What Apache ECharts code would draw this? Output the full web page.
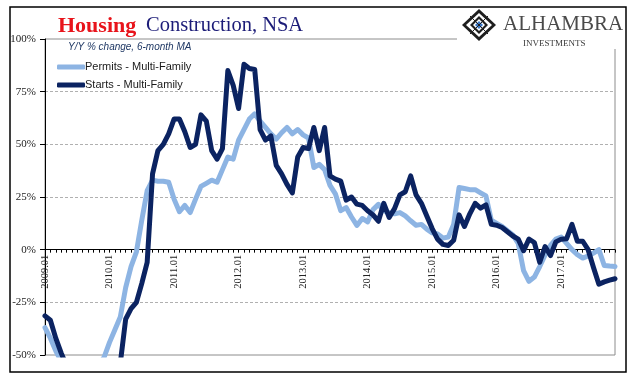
<!DOCTYPE html>
<html>
<head>
<meta charset="utf-8">
<script src="https://cdn.jsdelivr.net/npm/echarts@6/dist/echarts.min.js"></script>
<style>
  html, body { margin: 0; padding: 0; background: #fff; }
  #chart { width: 641px; height: 381px; }
</style>
</head>
<body>
<div id="chart"></div>
<script>
// ---- Data ----
var startYear = 2009;
var monthCount = 107; // 2009.01 .. 2017.11
var yTicks = [-50, -25, 0, 25, 50, 75, 100];

var permitsMF = [
  -37, -42, -48, -53, -58, -62, -65, -66, -64, -60, -55, -51,
  -44, -38, -32, -18, -8, -1, 14, 28, 33, 32.5, 32.5, 32,
  24, 18, 21, 17.6, 24, 30, 31.5, 33, 32, 38, 44, 43,
  52, 57, 62, 64.5, 61, 58, 55, 52.5, 55.5, 58, 55, 57,
  54.5, 53, 39, 40.5, 38, 30.5, 26.5, 18.5, 20, 15.5, 11.5, 14.8,
  13.2, 19, 21.5, 18.5, 17.5, 17, 17.6, 16, 13.7, 11.6, 12, 9.7,
  8, 7.5, 5.5, 6, 12, 29.5, 29, 28.5, 28.5, 27, 25.5, 14,
  12.5, 11, 9, 7, 3, -10, -15, -13, -8, -2.5, 2, 5,
  6, 3, 0, -2.4, -4, -3, -1.6, 0, -7.5, -7.8, -8
];

var startsMF = [
  -31.4, -33.5, -42, -49, -55, -60, -65, -70, -72, -70, -68, -65,
  -62, -58, -54, -33, -28, -25, -16, -6, 36, 47, 50, 55,
  62, 62, 56, 48.5, 50, 64, 61, 47, 43, 48, 85, 78,
  67, 88, 86, 85.5, 57, 52, 54, 40, 36, 31, 27, 44,
  48.5, 48, 58, 47, 58, 35, 33.5, 32.5, 23.5, 25, 21.6, 21,
  18.5, 16.5, 13.5, 22, 15.3, 19.5, 26, 27.5, 35, 26, 22, 16,
  10, 5, 2.5, 2, 4.5, 16.5, 11, 17, 22, 19.7, 21.3, 12,
  11.6, 10.5, 8.5, 6.5, 5, -0.5, 5, 3.4, -6, 1.5, -2.8, 3.7,
  5, 5.2, 12, 4, 4, 0, -8.5, -16.4, -15.3, -14.5, -13.8
];

var categories = [];
for (var k = 0; k < monthCount; k++) {
  var yy = startYear + Math.floor(k / 12);
  var mm = (k % 12) + 1;
  categories.push(yy + '.' + (mm < 10 ? '0' + mm : '' + mm));
}

var lightBlue = '#8db4e3';
var navy = '#0b2361';

var gridTop = 39, gridBottom = 26, chartH = 381;
var plotH = chartH - gridTop - gridBottom;
// distance from the bottom of the plot to the zero line, from the y scale
var zeroOffset = plotH * (0 - yTicks[0]) / (yTicks[yTicks.length - 1] - yTicks[0]);

var chart = echarts.init(document.getElementById('chart'), null, { renderer: 'canvas' });

var option = {
  backgroundColor: '#ffffff',
  animation: false,
  grid: {
    left: 45, right: 26, top: gridTop, bottom: gridBottom,
    show: true, borderColor: '#8c8c8c', borderWidth: 1, backgroundColor: 'transparent'
  },
  legend: {
    orient: 'vertical',
    left: 52, top: 55,
    itemWidth: 28, itemHeight: 5, itemGap: 4,
    icon: 'roundRect',
    textStyle: { fontFamily: 'Liberation Sans', fontSize: 11, color: '#1a1a1a', lineHeight: 14, padding: [0, 0, 0, -5] },
    data: ['Permits - Multi-Family', 'Starts - Multi-Family']
  },
  xAxis: {
    type: 'category',
    data: categories,
    boundaryGap: false,
    position: 'bottom',
    offset: -zeroOffset,
    axisLine: { onZero: false, lineStyle: { color: '#000', width: 1 } },
    axisTick: { show: true, interval: 0, length: 3, lineStyle: { color: '#000' } },
    axisLabel: {
      interval: function (idx) { return idx % 12 === 0; },
      rotate: 90, margin: 5,
      fontFamily: 'Liberation Serif', fontSize: 10.5, color: '#222'
    },
    splitLine: { show: false }
  },
  yAxis: {
    type: 'value',
    min: yTicks[0], max: yTicks[yTicks.length - 1], interval: 25,
    axisLine: { show: true, lineStyle: { color: '#000', width: 1 } },
    axisTick: { show: true, length: 5, lineStyle: { color: '#000' } },
    axisLabel: {
      formatter: '{value}%', margin: 9,
      fontFamily: 'Liberation Serif', fontSize: 11, color: '#222'
    },
    splitLine: {
      show: true, showMinLine: false, showMaxLine: false,
      lineStyle: { color: '#b0b0b0', type: [3, 2], width: 1 }
    }
  },
  series: [
    {
      name: 'Permits - Multi-Family',
      type: 'line',
      data: permitsMF,
      symbol: 'none',
      clip: true,
      z: 2,
      itemStyle: { color: lightBlue },
      lineStyle: { color: lightBlue, width: 5, cap: 'round', join: 'round' }
    },
    {
      name: 'Starts - Multi-Family',
      type: 'line',
      data: startsMF,
      symbol: 'none',
      clip: true,
      z: 3,
      itemStyle: { color: navy },
      lineStyle: { color: navy, width: 5, cap: 'round', join: 'round' }
    }
  ],
  graphic: [
    { type: 'rect', z: 100, shape: { x: 10, y: 7, width: 616, height: 365 },
      style: { fill: 'none', stroke: '#000', lineWidth: 1.5 } },
    { type: 'text', z: 100, x: 58, y: 26,
      style: { text: 'Housing', fontFamily: 'Liberation Serif', fontWeight: 'bold', fontSize: 22, fill: '#e8141b', verticalAlign: 'middle' } },
    { type: 'text', z: 100, x: 146, y: 26,
      style: { text: 'Construction, NSA', fontFamily: 'Liberation Serif', fontSize: 20.5, fill: '#1c1c78', verticalAlign: 'middle' } },
    { type: 'text', z: 100, x: 68, y: 47,
      style: { text: 'Y/Y % change, 6-month MA', fontFamily: 'Liberation Sans', fontStyle: 'italic', fontSize: 10, fill: '#1f3864', verticalAlign: 'middle' } },
    // logo area
    { type: 'rect', z: 90, shape: { x: 457, y: 9, width: 167, height: 40 }, style: { fill: '#fff' } },
    { type: 'polygon', z: 100, shape: { points: [[479, 9], [496, 25], [479, 41], [462, 25]] }, style: { fill: '#1e1e1e' } },
    { type: 'polygon', z: 101, shape: { points: [[479, 13], [492, 25], [479, 37], [466, 25]] }, style: { fill: '#fff' } },
    { type: 'polygon', z: 102, shape: { points: [[479, 16], [488, 25], [479, 34], [470, 25]] }, style: { fill: '#1e1e1e' } },
    { type: 'polygon', z: 103, shape: { points: [[479, 19], [485, 25], [479, 31], [473, 25]] }, style: { fill: '#fff' } },
    { type: 'polygon', z: 104, shape: { points: [[479, 21], [483, 25], [479, 29], [475, 25]] }, style: { fill: '#3b78c8' } },
    { type: 'line', z: 104, shape: { x1: 470, y1: 16, x2: 488, y2: 34 }, style: { stroke: '#1e1e1e', lineWidth: 1 } },
    { type: 'line', z: 104, shape: { x1: 488, y1: 16, x2: 470, y2: 34 }, style: { stroke: '#1e1e1e', lineWidth: 1 } },
    { type: 'text', z: 100, x: 503, y: 24,
      style: { text: 'ALHAMBRA', fontFamily: 'Liberation Serif', fontSize: 21, fill: '#4a4a4a', verticalAlign: 'middle' } },
    { type: 'text', z: 100, x: 523, y: 44,
      style: { text: 'INVESTMENTS', fontFamily: 'Liberation Serif', fontSize: 9, fill: '#3a3a3a', verticalAlign: 'middle', letterSpacing: 1.3 } }
  ]
};

chart.setOption(option);
</script>
</body>
</html>
